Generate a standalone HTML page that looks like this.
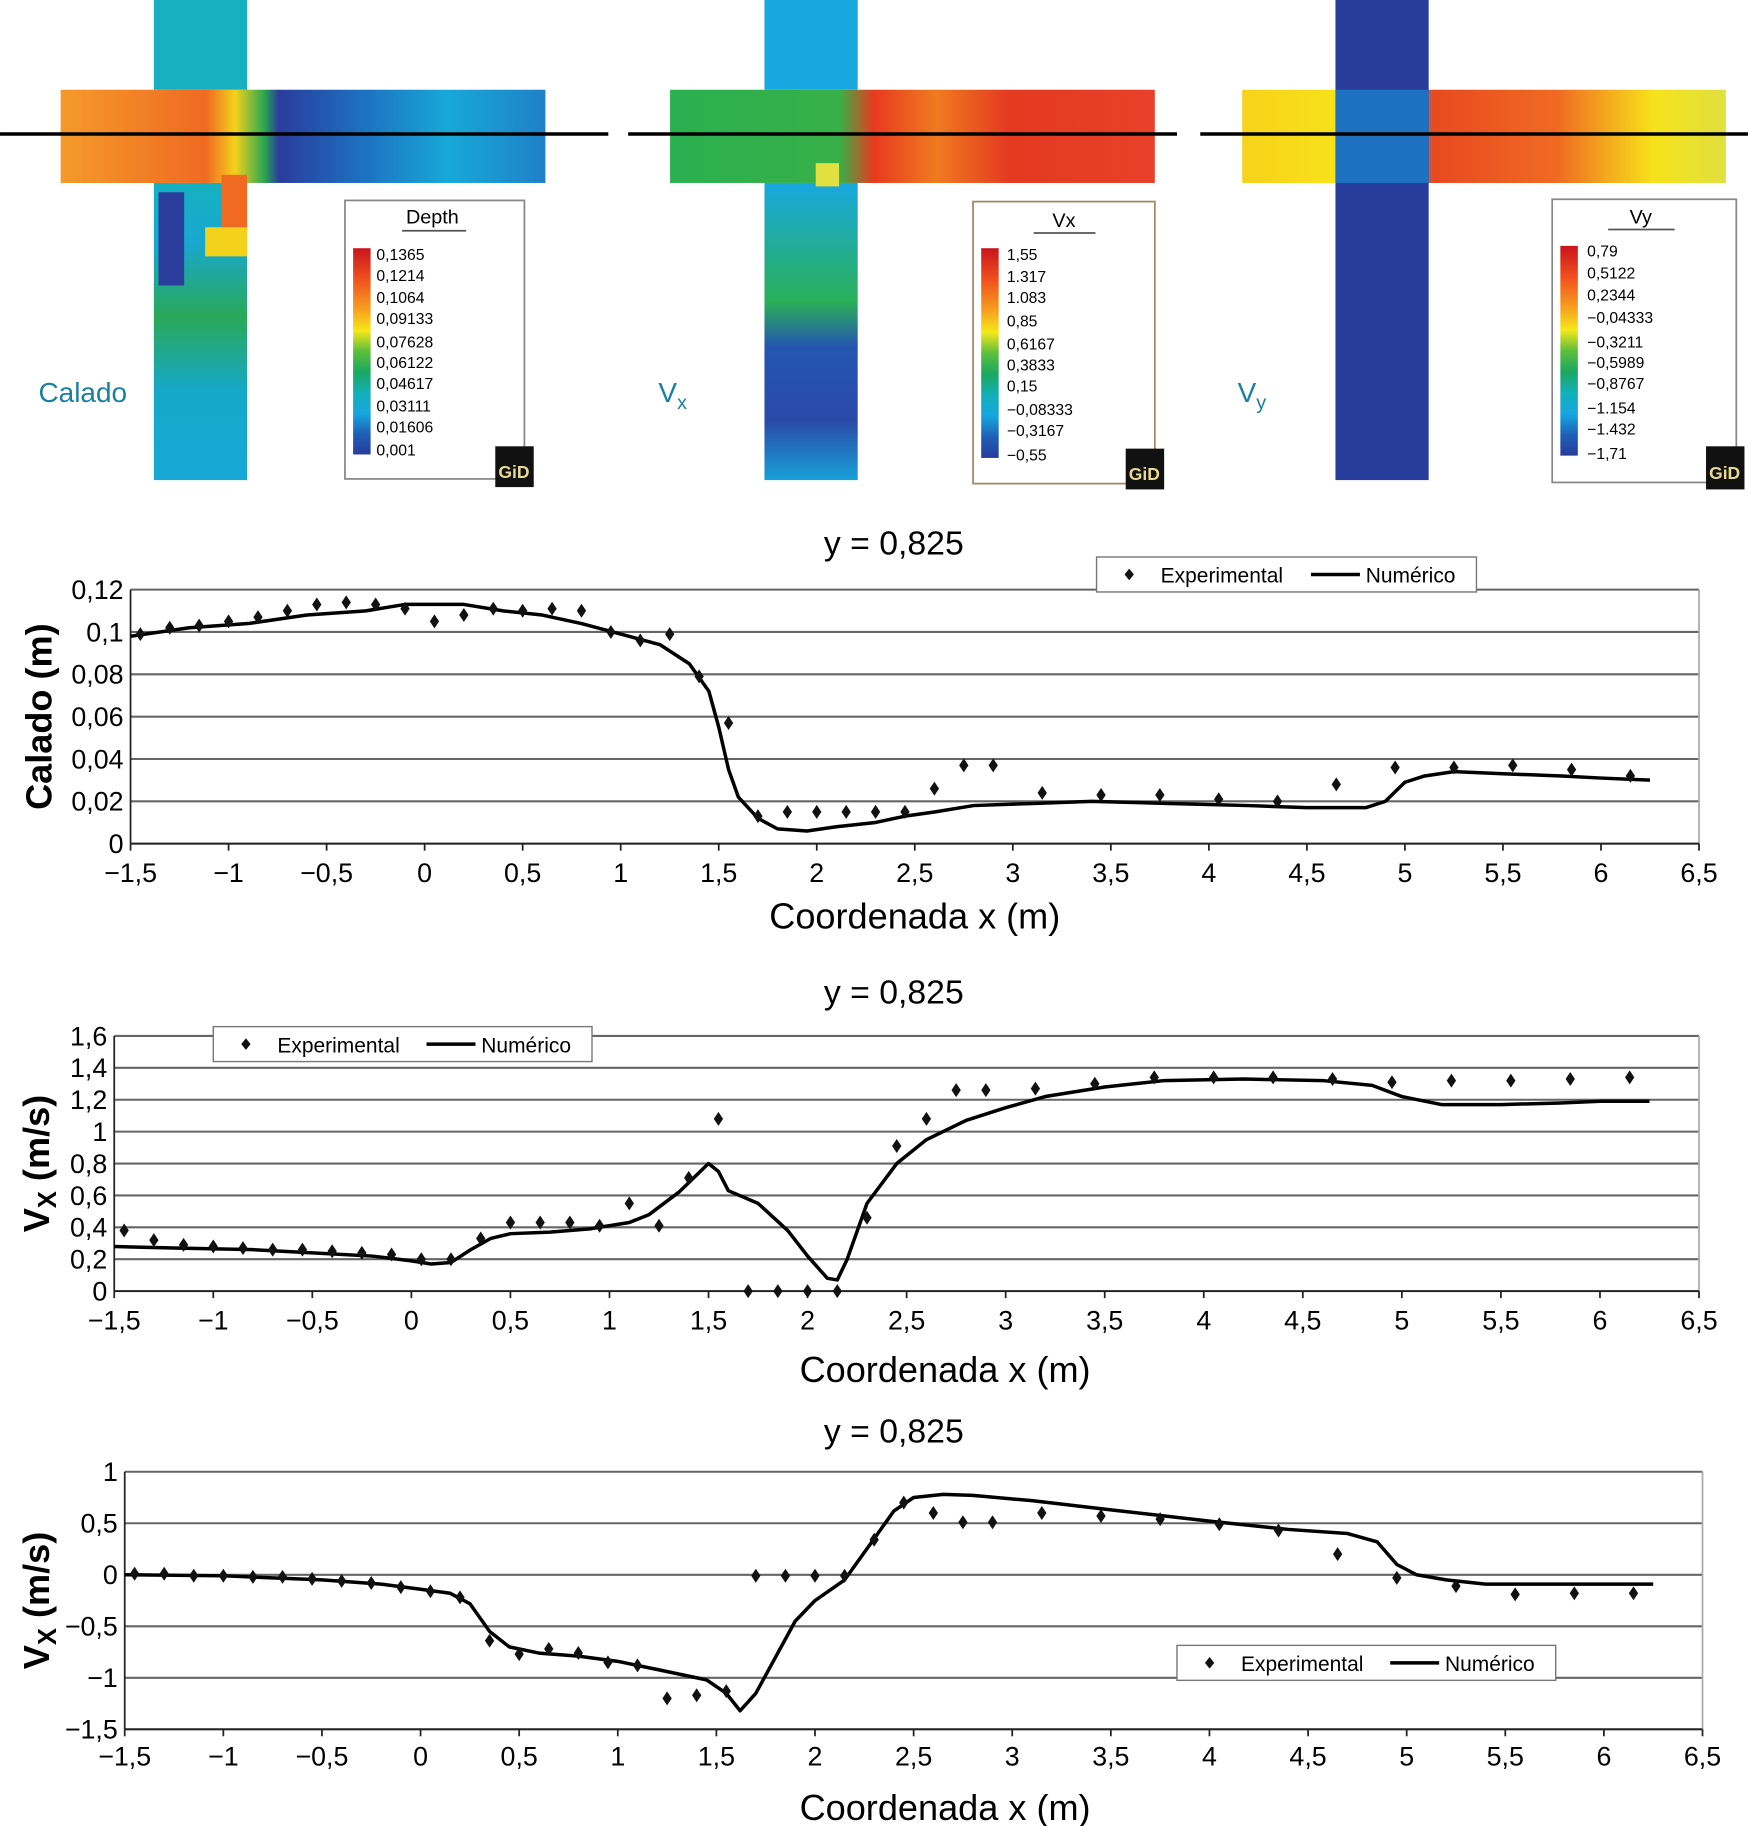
<!DOCTYPE html>
<html><head><meta charset="utf-8"><style>
html,body{margin:0;padding:0;background:#fff}
svg{display:block;font-family:"Liberation Sans",Arial,sans-serif}
</style></head><body>
<svg id="root" width="1748" height="1826" viewBox="0 0 1500 1567" xmlns="http://www.w3.org/2000/svg">
<defs>
<linearGradient id="gDepth" x1="0" y1="0" x2="0" y2="1">
<stop offset="0" stop-color="#c8141c"/><stop offset="0.15" stop-color="#f0501e"/><stop offset="0.3" stop-color="#f7a21e"/><stop offset="0.4" stop-color="#f5e81a"/><stop offset="0.5" stop-color="#5cbf3c"/><stop offset="0.6" stop-color="#1aa860"/><stop offset="0.7" stop-color="#12b0b8"/><stop offset="0.8" stop-color="#16a6e0"/><stop offset="0.9" stop-color="#1e60b8"/><stop offset="1" stop-color="#283c9c"/>
</linearGradient>
<linearGradient id="m1h" x1="0" y1="0" x2="1" y2="0">
<stop offset="0" stop-color="#f59a2a"/><stop offset="0.3" stop-color="#f06a22"/><stop offset="0.36" stop-color="#f4d21c"/><stop offset="0.42" stop-color="#2aa850"/><stop offset="0.45" stop-color="#2a3c9c"/><stop offset="0.62" stop-color="#1d70c0"/><stop offset="0.8" stop-color="#18a8d8"/><stop offset="1" stop-color="#1f80c8"/>
</linearGradient>
<linearGradient id="m1v" x1="0" y1="0" x2="0" y2="1">
<stop offset="0" stop-color="#16b0c0"/><stop offset="0.2" stop-color="#18a8d0"/><stop offset="0.45" stop-color="#2aa858"/><stop offset="0.7" stop-color="#16a8c8"/><stop offset="1" stop-color="#18a8d8"/>
</linearGradient>
<linearGradient id="m2h" x1="0" y1="0" x2="1" y2="0">
<stop offset="0" stop-color="#2ab050"/><stop offset="0.35" stop-color="#38b048"/><stop offset="0.42" stop-color="#e83a20"/><stop offset="0.55" stop-color="#f07a20"/><stop offset="0.7" stop-color="#e33a20"/><stop offset="1" stop-color="#e8402a"/>
</linearGradient>
<linearGradient id="m2v" x1="0" y1="0" x2="0" y2="1">
<stop offset="0" stop-color="#18a8e0"/><stop offset="0.4" stop-color="#2ab058"/><stop offset="0.55" stop-color="#2456b0"/><stop offset="0.8" stop-color="#2a4aa8"/><stop offset="1" stop-color="#18a0d8"/>
</linearGradient>
<linearGradient id="m3h" x1="0" y1="0" x2="1" y2="0">
<stop offset="0" stop-color="#f7d21a"/><stop offset="0.2" stop-color="#f7e21a"/><stop offset="0.3" stop-color="#18a8d8"/><stop offset="0.4" stop-color="#e84a20"/><stop offset="0.65" stop-color="#f06a22"/><stop offset="0.85" stop-color="#f7e21a"/><stop offset="1" stop-color="#e0e040"/>
</linearGradient>
</defs>

<g>
<rect x="52" y="77" width="416" height="80" fill="url(#m1h)"/>
<rect x="132" y="0" width="80" height="77" fill="#16b0c0"/>
<rect x="132" y="157" width="80" height="255" fill="url(#m1v)"/>
<rect x="190" y="150" width="22" height="50" fill="#f06a22"/>
<rect x="176" y="195" width="36" height="25" fill="#f4d21c"/>
<rect x="136" y="165" width="22" height="80" fill="#2a3c9c"/>
<line x1="0" y1="115" x2="522" y2="115" stroke="#000" stroke-width="3"/>
<text x="33" y="345" font-size="24" fill="#1a7fa0">Calado</text>
<rect x="296" y="172" width="154" height="239" fill="#fff" stroke="#888" stroke-width="1.5"/>
<text x="371" y="192" font-size="17" text-anchor="middle">Depth</text>
<line x1="345" y1="198" x2="400" y2="198" stroke="#555" stroke-width="1.5"/>
<rect x="303" y="213" width="15" height="177" fill="url(#gDepth)"/>
<g font-size="13.5">
<text x="323" y="223">0,1365</text><text x="323" y="241">0,1214</text><text x="323" y="260">0,1064</text><text x="323" y="278">0,09133</text><text x="323" y="298">0,07628</text><text x="323" y="316">0,06122</text><text x="323" y="334">0,04617</text><text x="323" y="353">0,03111</text><text x="323" y="371">0,01606</text><text x="323" y="391">0,001</text>
</g>
<rect x="425" y="383" width="33" height="35" fill="#111"/><text x="441" y="410" font-size="15" fill="#e8d890" text-anchor="middle" font-weight="bold">GiD</text>
</g>

<g>
<rect x="575" y="77" width="416" height="80" fill="url(#m2h)"/>
<rect x="656" y="0" width="80" height="77" fill="#18a8e0"/>
<rect x="656" y="157" width="80" height="255" fill="url(#m2v)"/>
<rect x="700" y="140" width="20" height="20" fill="#e0e040"/>
<line x1="539" y1="115" x2="1010" y2="115" stroke="#000" stroke-width="3"/>
<text x="565" y="345" font-size="24" fill="#1a7fa0">V<tspan font-size="17" dy="6">x</tspan></text>
<rect x="835" y="173" width="156" height="242" fill="#fff" stroke="#a08860" stroke-width="1.5"/>
<text x="913" y="195" font-size="17" text-anchor="middle">Vx</text>
<line x1="887" y1="200" x2="940" y2="200" stroke="#555" stroke-width="1.5"/>
<rect x="842" y="213" width="15" height="180" fill="url(#gDepth)"/>
<g font-size="13.5">
<text x="864" y="223">1,55</text><text x="864" y="242">1.317</text><text x="864" y="260">1.083</text><text x="864" y="280">0,85</text><text x="864" y="300">0,6167</text><text x="864" y="318">0,3833</text><text x="864" y="336">0,15</text><text x="864" y="356">−0,08333</text><text x="864" y="374">−0,3167</text><text x="864" y="395">−0,55</text>
</g>
<rect x="966" y="385" width="33" height="35" fill="#111"/><text x="982" y="412" font-size="15" fill="#e8d890" text-anchor="middle" font-weight="bold">GiD</text>
</g>

<g>
<rect x="1066" y="77" width="415" height="80" fill="url(#m3h)"/>
<rect x="1146" y="0" width="80" height="412" fill="#283c9c"/>
<rect x="1146" y="77" width="80" height="80" fill="#1e70c0"/>
<line x1="1030" y1="115" x2="1500" y2="115" stroke="#000" stroke-width="3"/>
<text x="1062" y="345" font-size="24" fill="#1a7fa0">V<tspan font-size="17" dy="6">y</tspan></text>
<rect x="1332" y="171" width="158" height="243" fill="#fff" stroke="#888" stroke-width="1.5"/>
<text x="1408" y="192" font-size="17" text-anchor="middle">Vy</text>
<line x1="1380" y1="197" x2="1437" y2="197" stroke="#555" stroke-width="1.5"/>
<rect x="1339" y="211" width="15" height="180" fill="url(#gDepth)"/>
<g font-size="13.5">
<text x="1362" y="220">0,79</text><text x="1362" y="239">0,5122</text><text x="1362" y="258">0,2344</text><text x="1362" y="277">−0,04333</text><text x="1362" y="298">−0,3211</text><text x="1362" y="316">−0,5989</text><text x="1362" y="334">−0,8767</text><text x="1362" y="355">−1.154</text><text x="1362" y="373">−1.432</text><text x="1362" y="394">−1,71</text>
</g>
<rect x="1464" y="383" width="33" height="37" fill="#111"/><text x="1480" y="411" font-size="15" fill="#e8d890" text-anchor="middle" font-weight="bold">GiD</text>
</g>
<g id="charts"></g>
</svg>
<script>
const xTicks = [-1.5,-1,-0.5,0,0.5,1,1.5,2,2.5,3,3.5,4,4.5,5,5.5,6,6.5];
const c1Ticks = [0,0.02,0.04,0.06,0.08,0.1,0.12];
const c1TickLabels = ["0","0,02","0,04","0,06","0,08","0,1","0,12"];
const c1ExpX = [-1.45,-1.3,-1.15,-1,-0.85,-0.7,-0.55,-0.4,-0.25,-0.1,0.05,0.2,0.35,0.5,0.65,0.8,0.95,1.1,1.25,1.4,1.55,1.7,1.85,2.0,2.15,2.3,2.45,2.6,2.75,2.9,3.15,3.45,3.75,4.05,4.35,4.65,4.95,5.25,5.55,5.85,6.15];
const c1ExpY = [0.099,0.102,0.103,0.105,0.107,0.110,0.113,0.114,0.113,0.111,0.105,0.108,0.111,0.110,0.111,0.110,0.100,0.096,0.099,0.079,0.057,0.013,0.015,0.015,0.015,0.015,0.015,0.026,0.037,0.037,0.024,0.023,0.023,0.021,0.020,0.028,0.036,0.036,0.037,0.035,0.032];
const c1NumX = [-1.5,-1.2,-0.9,-0.6,-0.3,-0.1,0.2,0.4,0.6,0.8,1.0,1.2,1.35,1.45,1.5,1.55,1.6,1.7,1.8,1.95,2.1,2.3,2.45,2.6,2.8,3.1,3.4,3.8,4.2,4.5,4.8,4.9,5.0,5.1,5.25,5.5,5.8,6.0,6.25];
const c1NumY = [0.098,0.102,0.104,0.108,0.110,0.113,0.113,0.110,0.108,0.104,0.099,0.094,0.085,0.072,0.055,0.035,0.022,0.012,0.007,0.006,0.008,0.010,0.013,0.015,0.018,0.019,0.020,0.019,0.018,0.017,0.017,0.020,0.029,0.032,0.034,0.033,0.032,0.031,0.030];

const c2Ticks = [0,0.2,0.4,0.6,0.8,1,1.2,1.4,1.6];
const c2TickLabels = ["0","0,2","0,4","0,6","0,8","1","1,2","1,4","1,6"];
const c2ExpX = c1ExpX;
const c2ExpY = [0.38,0.32,0.29,0.28,0.27,0.26,0.26,0.25,0.24,0.23,0.20,0.20,0.33,0.43,0.43,0.43,0.41,0.55,0.41,0.71,1.08,0,0,0,0,0.46,0.91,1.08,1.26,1.26,1.27,1.30,1.34,1.34,1.34,1.33,1.31,1.32,1.32,1.33,1.34];
const c2NumX = [-1.5,-1.2,-0.8,-0.5,-0.2,0,0.1,0.2,0.3,0.4,0.5,0.7,0.9,1.1,1.2,1.35,1.5,1.55,1.6,1.75,1.9,2.0,2.1,2.15,2.2,2.3,2.45,2.6,2.8,3.0,3.2,3.5,3.8,4.2,4.6,4.85,5.0,5.2,5.5,5.8,6.0,6.25];
const c2NumY = [0.28,0.27,0.26,0.24,0.22,0.19,0.17,0.18,0.26,0.33,0.36,0.37,0.39,0.43,0.48,0.62,0.80,0.75,0.63,0.55,0.38,0.22,0.08,0.07,0.2,0.55,0.80,0.95,1.07,1.15,1.22,1.28,1.32,1.33,1.32,1.29,1.22,1.17,1.17,1.18,1.19,1.19];

const c3Ticks = [-1.5,-1,-0.5,0,0.5,1];
const c3TickLabels = ["−1,5","−1","−0,5","0","0,5","1"];
const c3ExpX = c1ExpX;
const c3ExpY = [0.01,0.01,-0.01,-0.01,-0.02,-0.02,-0.04,-0.06,-0.08,-0.12,-0.16,-0.22,-0.64,-0.77,-0.72,-0.76,-0.85,-0.88,-1.2,-1.17,-1.13,-0.01,-0.01,-0.01,-0.01,0.34,0.70,0.60,0.51,0.51,0.60,0.57,0.54,0.49,0.43,0.20,-0.03,-0.11,-0.19,-0.18,-0.18];
const c3NumX = [-1.5,-1,-0.5,-0.2,0,0.15,0.25,0.35,0.45,0.6,0.8,1.0,1.2,1.45,1.55,1.62,1.7,1.8,1.9,2.0,2.15,2.3,2.4,2.5,2.65,2.8,3.1,3.5,4.0,4.4,4.7,4.85,4.95,5.05,5.2,5.4,5.8,6.25];
const c3NumY = [0,-0.01,-0.05,-0.09,-0.14,-0.18,-0.28,-0.55,-0.70,-0.76,-0.79,-0.84,-0.92,-1.02,-1.15,-1.32,-1.15,-0.8,-0.45,-0.25,-0.05,0.35,0.62,0.75,0.78,0.77,0.72,0.63,0.52,0.44,0.40,0.32,0.10,0.0,-0.05,-0.09,-0.09,-0.09];

const NS = "http://www.w3.org/2000/svg";
const root = document.getElementById('charts');
function mk(tag, attrs, parent, txt){
  const e = document.createElementNS(NS, tag);
  for (const k in attrs) e.setAttribute(k, attrs[k]);
  if (txt !== undefined) e.textContent = txt;
  parent.appendChild(e);
  return e;
}
function fmtX(v){ return (v<0?"−":"") + String(Math.abs(v)).replace('.',','); }

function drawChart(cfg){
  const g = mk('g', {}, root);
  
  
  const sx = v => cfg.x0 + (v - (-1.5)) / 8 * (cfg.x1 - cfg.x0);
  const sy = v => cfg.yb + (v - cfg.ymin) / (cfg.ymax - cfg.ymin) * (cfg.yt - cfg.yb);
  cfg.ticks.forEach((t, i) => {
    const ln = mk('line', {x1: cfg.x0, x2: cfg.x1, y1: sy(t), y2: sy(t), stroke: '#666', 'stroke-width': 1.8}, g);
    
    
    const tl = mk('text', {x: cfg.x0 - 6, y: sy(t) + 8, 'font-size': 23, 'text-anchor': 'end'}, g, cfg.labels[i]);
    
    
  });
  mk('line', {x1: cfg.x1, x2: cfg.x1, y1: cfg.yt, y2: cfg.yb, stroke: '#aaa', 'stroke-width': 1.5}, g);
  mk('line', {x1: cfg.x0, x2: cfg.x0, y1: cfg.yt, y2: cfg.yb, stroke: '#222', 'stroke-width': 1.5}, g);
  mk('line', {x1: cfg.x0, x2: cfg.x1, y1: cfg.yb, y2: cfg.yb, stroke: '#222', 'stroke-width': 1.5}, g);
  xTicks.forEach(t => {
    mk('line', {x1: sx(t), x2: sx(t), y1: cfg.yb, y2: cfg.yb + 6, stroke: '#222', 'stroke-width': 1.5}, g);
    const tl = mk('text', {x: sx(t), y: cfg.tickY, 'font-size': 23, 'text-anchor': 'middle'}, g, fmtX(t));
    
    
  });
  const d = cfg.numX.map((x, i) => (i ? 'L' : 'M') + sx(x).toFixed(1) + ',' + sy(cfg.numY[i]).toFixed(1)).join(' ');
  const p = mk('path', {d: d, fill: 'none', stroke: '#000', 'stroke-width': 3, 'stroke-linejoin': 'round'}, g);
  
  
  cfg.expX.forEach((x, i) => {
    const cx = sx(x), cy = sy(cfg.expY[i]);
    const m = mk('path', {d: `M${cx},${cy-6} L${cx+4},${cy} L${cx},${cy+6} L${cx-4},${cy} Z`, fill: '#111'}, g);
    
    
  });
  const tt = mk('text', {x: 767, y: cfg.titleY, 'font-size': 29, 'text-anchor': 'middle'}, g, 'y = 0,825');
  
  
  const xl = mk('text', {x: cfg.xlX, y: cfg.xlY, 'font-size': 31, 'text-anchor': 'middle'}, g, 'Coordenada x (m)');
  
  
  const ym = (cfg.yt + cfg.yb) / 2;
  const yl = mk('text', {x: 0, y: 0, 'font-size': 31, 'font-weight': 'bold', 'text-anchor': 'middle', transform: `translate(${cfg.ylX},${ym}) rotate(-90)`}, g);
  
  
  if (cfg.ylabel === 'Calado (m)') { yl.textContent = 'Calado (m)'; }
  else {
    mk('tspan', {}, yl, 'V');
    mk('tspan', {'font-size': 22, dy: 6}, yl, 'X');
    mk('tspan', {dy: -6}, yl, ' (m/s)');
  }
  const L = cfg.leg;
  const lg = mk('g', {}, g);
  
  
  mk('rect', {x: L.x, y: L.y, width: L.w, height: 30, fill: '#fff', stroke: '#777', 'stroke-width': 1.2}, lg);
  const lx = L.x + 28, ly = L.y + 15;
  mk('path', {d: `M${lx},${ly-5} L${lx+4},${ly} L${lx},${ly+5} L${lx-4},${ly} Z`, fill: '#111'}, lg);
  mk('text', {x: lx + 27, y: ly + 7, 'font-size': 18}, lg, 'Experimental');
  mk('line', {x1: L.x + L.w - 142, x2: L.x + L.w - 100, y1: ly, y2: ly, stroke: '#000', 'stroke-width': 3}, lg);
  mk('text', {x: L.x + L.w - 95, y: ly + 7, 'font-size': 18}, lg, 'Numérico');
}

drawChart({name:'calado-chart', x0:112, x1:1458, yb:724, yt:506, ymin:0, ymax:0.12, ticks:c1Ticks, labels:c1TickLabels,
  expX:c1ExpX, expY:c1ExpY, numX:c1NumX, numY:c1NumY, tickY:757, titleY:476, xlX:785, xlY:797, ylX:44, ylabel:'Calado (m)',
  leg:{x:941,y:478,w:326}});
drawChart({name:'vx-chart', x0:98, x1:1458, yb:1108, yt:889, ymin:0, ymax:1.6, ticks:c2Ticks, labels:c2TickLabels,
  expX:c2ExpX, expY:c2ExpY, numX:c2NumX, numY:c2NumY, tickY:1141, titleY:861, xlX:811, xlY:1186, ylX:42, ylabel:'Vx',
  leg:{x:183,y:881,w:325}});
drawChart({name:'vy-chart', x0:107, x1:1461, yb:1484, yt:1263, ymin:-1.5, ymax:1, ticks:c3Ticks, labels:c3TickLabels,
  expX:c3ExpX, expY:c3ExpY, numX:c3NumX, numY:c3NumY, tickY:1515, titleY:1238, xlX:811, xlY:1562, ylX:42, ylabel:'Vx',
  leg:{x:1010,y:1412,w:325}});
</script>
</body></html>
